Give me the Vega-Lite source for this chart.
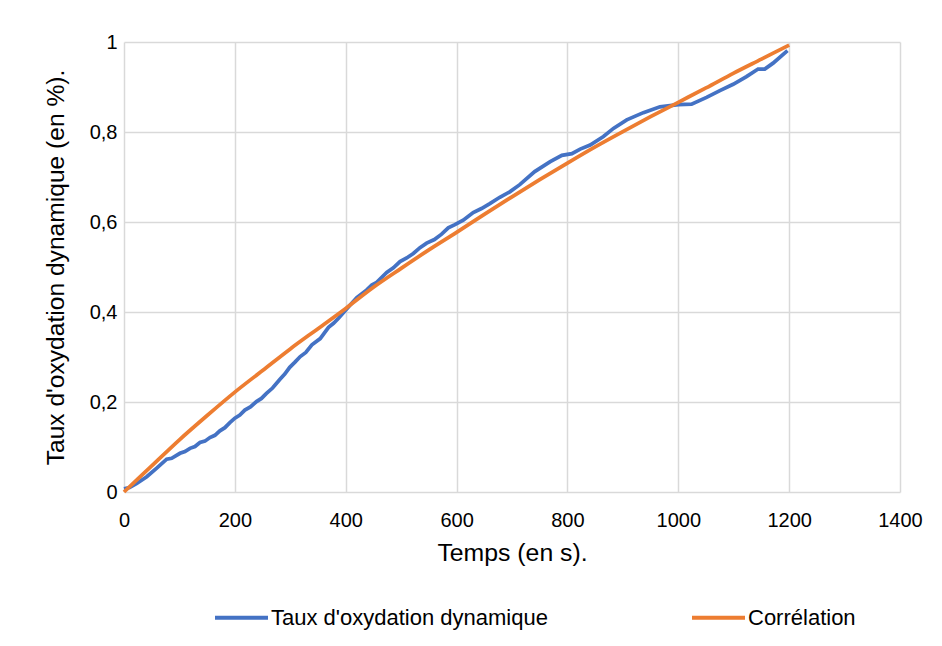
{
  "$schema": "https://vega.github.io/schema/vega-lite/v6.json",
  "width": 776,
  "height": 450,
  "autosize": {"type": "none"},
  "padding": {"left": 124, "top": 42, "right": 42, "bottom": 154},
  "background": "white",
  "config": {
    "view": {"stroke": null},
    "font": "Liberation Sans",
    "axis": {"labelColor": "#000000", "titleColor": "#000000", "titleFontWeight": "normal"}
  },
  "datasets": {
    "taux": [
      {"series": "Taux d'oxydation dynamique", "t": 0, "v": 0.007},
      {"series": "Taux d'oxydation dynamique", "t": 10, "v": 0.01},
      {"series": "Taux d'oxydation dynamique", "t": 23, "v": 0.019},
      {"series": "Taux d'oxydation dynamique", "t": 41, "v": 0.034},
      {"series": "Taux d'oxydation dynamique", "t": 59, "v": 0.053},
      {"series": "Taux d'oxydation dynamique", "t": 77, "v": 0.073},
      {"series": "Taux d'oxydation dynamique", "t": 86, "v": 0.075},
      {"series": "Taux d'oxydation dynamique", "t": 101, "v": 0.086},
      {"series": "Taux d'oxydation dynamique", "t": 110, "v": 0.09},
      {"series": "Taux d'oxydation dynamique", "t": 119, "v": 0.097},
      {"series": "Taux d'oxydation dynamique", "t": 128, "v": 0.101},
      {"series": "Taux d'oxydation dynamique", "t": 137, "v": 0.11},
      {"series": "Taux d'oxydation dynamique", "t": 146, "v": 0.113},
      {"series": "Taux d'oxydation dynamique", "t": 155, "v": 0.121},
      {"series": "Taux d'oxydation dynamique", "t": 164, "v": 0.126},
      {"series": "Taux d'oxydation dynamique", "t": 173, "v": 0.136},
      {"series": "Taux d'oxydation dynamique", "t": 182, "v": 0.143},
      {"series": "Taux d'oxydation dynamique", "t": 191, "v": 0.154},
      {"series": "Taux d'oxydation dynamique", "t": 200, "v": 0.164},
      {"series": "Taux d'oxydation dynamique", "t": 209, "v": 0.171},
      {"series": "Taux d'oxydation dynamique", "t": 218, "v": 0.182},
      {"series": "Taux d'oxydation dynamique", "t": 228, "v": 0.189},
      {"series": "Taux d'oxydation dynamique", "t": 239, "v": 0.201},
      {"series": "Taux d'oxydation dynamique", "t": 248, "v": 0.208},
      {"series": "Taux d'oxydation dynamique", "t": 257, "v": 0.219},
      {"series": "Taux d'oxydation dynamique", "t": 268, "v": 0.231},
      {"series": "Taux d'oxydation dynamique", "t": 281, "v": 0.25},
      {"series": "Taux d'oxydation dynamique", "t": 290, "v": 0.262},
      {"series": "Taux d'oxydation dynamique", "t": 299, "v": 0.277},
      {"series": "Taux d'oxydation dynamique", "t": 308, "v": 0.288},
      {"series": "Taux d'oxydation dynamique", "t": 318, "v": 0.301},
      {"series": "Taux d'oxydation dynamique", "t": 328, "v": 0.31},
      {"series": "Taux d'oxydation dynamique", "t": 339, "v": 0.327},
      {"series": "Taux d'oxydation dynamique", "t": 354, "v": 0.341},
      {"series": "Taux d'oxydation dynamique", "t": 369, "v": 0.366},
      {"series": "Taux d'oxydation dynamique", "t": 378, "v": 0.375},
      {"series": "Taux d'oxydation dynamique", "t": 387, "v": 0.386},
      {"series": "Taux d'oxydation dynamique", "t": 402, "v": 0.407},
      {"series": "Taux d'oxydation dynamique", "t": 420, "v": 0.432},
      {"series": "Taux d'oxydation dynamique", "t": 438, "v": 0.449},
      {"series": "Taux d'oxydation dynamique", "t": 447, "v": 0.46},
      {"series": "Taux d'oxydation dynamique", "t": 456, "v": 0.466},
      {"series": "Taux d'oxydation dynamique", "t": 474, "v": 0.488},
      {"series": "Taux d'oxydation dynamique", "t": 486, "v": 0.498},
      {"series": "Taux d'oxydation dynamique", "t": 498, "v": 0.512},
      {"series": "Taux d'oxydation dynamique", "t": 510, "v": 0.52},
      {"series": "Taux d'oxydation dynamique", "t": 522, "v": 0.53},
      {"series": "Taux d'oxydation dynamique", "t": 534, "v": 0.543},
      {"series": "Taux d'oxydation dynamique", "t": 546, "v": 0.553},
      {"series": "Taux d'oxydation dynamique", "t": 560, "v": 0.561},
      {"series": "Taux d'oxydation dynamique", "t": 573, "v": 0.573},
      {"series": "Taux d'oxydation dynamique", "t": 585, "v": 0.587},
      {"series": "Taux d'oxydation dynamique", "t": 597, "v": 0.594},
      {"series": "Taux d'oxydation dynamique", "t": 612, "v": 0.604},
      {"series": "Taux d'oxydation dynamique", "t": 630, "v": 0.621},
      {"series": "Taux d'oxydation dynamique", "t": 645, "v": 0.63},
      {"series": "Taux d'oxydation dynamique", "t": 660, "v": 0.641},
      {"series": "Taux d'oxydation dynamique", "t": 678, "v": 0.655},
      {"series": "Taux d'oxydation dynamique", "t": 696, "v": 0.667},
      {"series": "Taux d'oxydation dynamique", "t": 714, "v": 0.683},
      {"series": "Taux d'oxydation dynamique", "t": 741, "v": 0.712},
      {"series": "Taux d'oxydation dynamique", "t": 769, "v": 0.734},
      {"series": "Taux d'oxydation dynamique", "t": 790, "v": 0.748},
      {"series": "Taux d'oxydation dynamique", "t": 808, "v": 0.752},
      {"series": "Taux d'oxydation dynamique", "t": 823, "v": 0.762},
      {"series": "Taux d'oxydation dynamique", "t": 841, "v": 0.771},
      {"series": "Taux d'oxydation dynamique", "t": 865, "v": 0.79},
      {"series": "Taux d'oxydation dynamique", "t": 883, "v": 0.808},
      {"series": "Taux d'oxydation dynamique", "t": 907, "v": 0.827},
      {"series": "Taux d'oxydation dynamique", "t": 937, "v": 0.843},
      {"series": "Taux d'oxydation dynamique", "t": 967, "v": 0.856},
      {"series": "Taux d'oxydation dynamique", "t": 1000, "v": 0.861},
      {"series": "Taux d'oxydation dynamique", "t": 1024, "v": 0.862},
      {"series": "Taux d'oxydation dynamique", "t": 1051, "v": 0.877},
      {"series": "Taux d'oxydation dynamique", "t": 1075, "v": 0.892},
      {"series": "Taux d'oxydation dynamique", "t": 1099, "v": 0.906},
      {"series": "Taux d'oxydation dynamique", "t": 1123, "v": 0.923},
      {"series": "Taux d'oxydation dynamique", "t": 1144, "v": 0.94},
      {"series": "Taux d'oxydation dynamique", "t": 1156, "v": 0.94},
      {"series": "Taux d'oxydation dynamique", "t": 1171, "v": 0.953},
      {"series": "Taux d'oxydation dynamique", "t": 1197, "v": 0.981}
    ],
    "corr": [
      {"series": "Corrélation", "t": 0, "v": 0},
      {"series": "Corrélation", "t": 50, "v": 0.058},
      {"series": "Corrélation", "t": 100, "v": 0.116},
      {"series": "Corrélation", "t": 150, "v": 0.17},
      {"series": "Corrélation", "t": 200, "v": 0.222},
      {"series": "Corrélation", "t": 250, "v": 0.27},
      {"series": "Corrélation", "t": 300, "v": 0.318},
      {"series": "Corrélation", "t": 350, "v": 0.363},
      {"series": "Corrélation", "t": 400, "v": 0.408},
      {"series": "Corrélation", "t": 450, "v": 0.455},
      {"series": "Corrélation", "t": 500, "v": 0.497},
      {"series": "Corrélation", "t": 550, "v": 0.538},
      {"series": "Corrélation", "t": 600, "v": 0.577},
      {"series": "Corrélation", "t": 650, "v": 0.617},
      {"series": "Corrélation", "t": 700, "v": 0.656},
      {"series": "Corrélation", "t": 750, "v": 0.694},
      {"series": "Corrélation", "t": 800, "v": 0.731},
      {"series": "Corrélation", "t": 850, "v": 0.767},
      {"series": "Corrélation", "t": 900, "v": 0.801},
      {"series": "Corrélation", "t": 950, "v": 0.834},
      {"series": "Corrélation", "t": 1000, "v": 0.866},
      {"series": "Corrélation", "t": 1050, "v": 0.898},
      {"series": "Corrélation", "t": 1100, "v": 0.931},
      {"series": "Corrélation", "t": 1150, "v": 0.962},
      {"series": "Corrélation", "t": 1200, "v": 0.993}
    ]
  },
  "encoding": {
    "x": {
      "field": "t",
      "type": "quantitative",
      "scale": {"domain": [0, 1400], "nice": false, "zero": true},
      "axis": {
        "values": [0, 200, 400, 600, 800, 1000, 1200, 1400],
        "format": "d",
        "title": "Temps (en s).",
        "titleFontSize": 24.8,
        "titleY": 68,
        "titleBaseline": "alphabetic",
        "labelFontSize": 20,
        "labelPadding": 18,
        "labelFlush": false,
        "ticks": false,
        "domain": false,
        "grid": true,
        "gridColor": "#d9d9d9",
        "gridWidth": 1.5
      }
    },
    "y": {
      "field": "v",
      "type": "quantitative",
      "scale": {"domain": [0, 1], "nice": false},
      "axis": {
        "values": [0, 0.2, 0.4, 0.6, 0.8, 1],
        "labelExpr": "replace(format(datum.value, '~g'), '.', ',')",
        "title": "Taux d'oxydation dynamique (en %).",
        "titleFontSize": 24.6,
        "titleAngle": -90,
        "titleX": -61,
        "titleBaseline": "alphabetic",
        "labelFontSize": 20,
        "labelPadding": 7,
        "labelFlush": false,
        "ticks": false,
        "domain": false,
        "grid": true,
        "gridColor": "#d9d9d9",
        "gridWidth": 1.5
      }
    },
    "color": {
      "field": "series",
      "type": "nominal",
      "scale": {
        "domain": ["Taux d'oxydation dynamique", "Corrélation"],
        "range": ["#4472C4", "#ED7D31"]
      },
      "legend": {
        "title": null,
        "orient": "none",
        "direction": "horizontal",
        "legendX": 89,
        "legendY": 547,
        "symbolType": "stroke",
        "symbolSize": 2809,
        "symbolStrokeWidth": 4,
        "labelFontSize": 22,
        "labelColor": "#000000",
        "labelOffset": 1,
        "columnPadding": 136,
        "labelLimit": 400
      }
    }
  },
  "layer": [
    {
      "data": {"name": "taux"},
      "mark": {"type": "line", "strokeWidth": 3.75}
    },
    {
      "data": {"name": "corr"},
      "mark": {"type": "line", "strokeWidth": 3.75, "interpolate": "monotone"}
    }
  ]
}
